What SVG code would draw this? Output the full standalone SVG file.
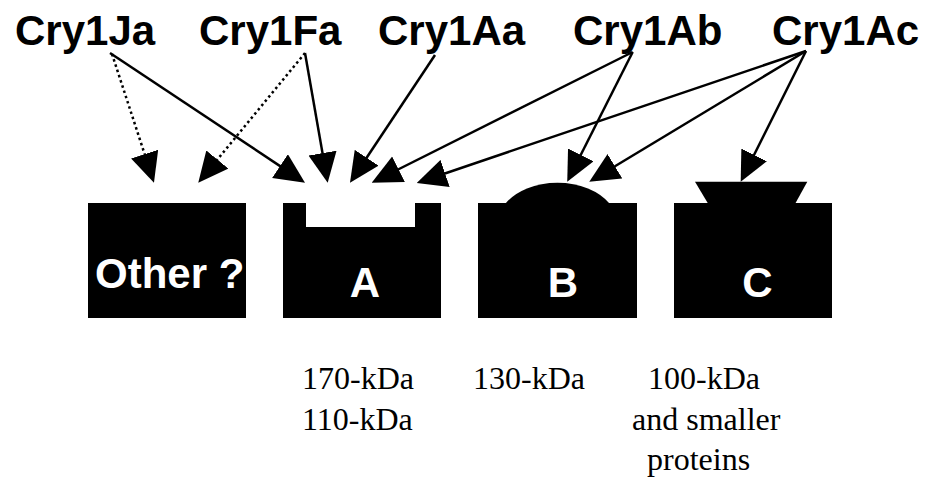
<svg xmlns="http://www.w3.org/2000/svg" width="932" height="487" viewBox="0 0 932 487">
  <style>
    .lbl { font-family: "Liberation Sans", Arial, sans-serif; font-weight: bold; font-size: 42px; fill: #000; }
    .inner { font-family: "Liberation Sans", Arial, sans-serif; font-weight: bold; font-size: 42px; fill: #fff; }
    .mw { font-family: "Liberation Serif", "Times New Roman", serif; font-size: 32px; fill: #000; }
    .shape { fill: #000; }
    .solid { stroke: #000; stroke-width: 2.5; fill: none; marker-end: url(#head); }
    .dotted { stroke: #000; stroke-width: 2.5; fill: none; stroke-dasharray: 2.5 3; marker-end: url(#head); }
  </style>
  <defs>
    <marker id="head" markerUnits="userSpaceOnUse" markerWidth="30" markerHeight="29" refX="15" refY="14.25" orient="auto">
      <path d="M0,0 L30,14.25 L0,28.5 Z" fill="#000"/>
    </marker>
  </defs>
  <rect width="932" height="487" fill="#fff"/>

  <!-- toxin labels -->
  <g id="cry1ja"><text class="lbl" x="15" y="45">Cry1Ja</text></g>
  <g id="cry1fa"><text class="lbl" x="199" y="45">Cry1Fa</text></g>
  <g id="cry1aa"><text class="lbl" x="378" y="45">Cry1Aa</text></g>
  <g id="cry1ab"><text class="lbl" x="573" y="45">Cry1Ab</text></g>
  <g id="cry1ac"><text class="lbl" x="772" y="45">Cry1Ac</text></g>

  <!-- receptor shapes -->
  <g id="other">
    <rect class="shape" x="88" y="203" width="158" height="115"/>
    <text class="inner" x="95" y="288">Other ?</text>
  </g>
  <g id="receptor-a">
    <path class="shape" d="M283,203 H306 V227 H415 V203 H441 V318 H283 Z"/>
    <text class="inner" x="365" y="297" text-anchor="middle">A</text>
  </g>
  <g id="receptor-b">
    <rect class="shape" x="478" y="203" width="159" height="115"/>
    <path class="shape" d="M505,204 A60,41.3 0 0 1 610,204 Z"/>
    <text class="inner" x="563" y="297" text-anchor="middle">B</text>
  </g>
  <g id="receptor-c">
    <rect class="shape" x="674" y="203" width="158" height="115"/>
    <path class="shape" d="M695,181.7 H807.3 L795,204 H708.3 Z"/>
    <text class="inner" x="757.5" y="297" text-anchor="middle">C</text>
  </g>

  <!-- molecular weights -->
  <g id="mw-a">
    <text class="mw" x="302" y="389">170-kDa</text>
    <text class="mw" x="302" y="430">110-kDa</text>
  </g>
  <g id="mw-b">
    <text class="mw" x="473" y="389">130-kDa</text>
  </g>
  <g id="mw-c">
    <text class="mw" x="648" y="389">100-kDa</text>
    <text class="mw" x="632" y="430">and smaller</text>
    <text class="mw" x="647" y="470">proteins</text>
  </g>

  <!-- binding connectors -->
  <g id="connectors">
    <line class="dotted" x1="112" y1="54" x2="149.3" y2="168.4"/>
    <line class="solid" x1="110" y1="53" x2="292.5" y2="174.4"/>
    <line class="dotted" x1="305" y1="53" x2="207.8" y2="171.1"/>
    <line class="solid" x1="305" y1="53" x2="325.1" y2="167.9"/>
    <line class="solid" x1="435" y1="55" x2="358.3" y2="170.2"/>
    <line class="solid" x1="632.7" y1="52" x2="385.1" y2="176.0"/>
    <line class="solid" x1="806" y1="51" x2="430.9" y2="178.2"/>
    <line class="solid" x1="632.7" y1="52" x2="574.0" y2="168.3"/>
    <line class="solid" x1="806" y1="51" x2="602.1" y2="174.0"/>
    <line class="solid" x1="806" y1="51" x2="747.4" y2="168.3"/>
  </g>
</svg>
